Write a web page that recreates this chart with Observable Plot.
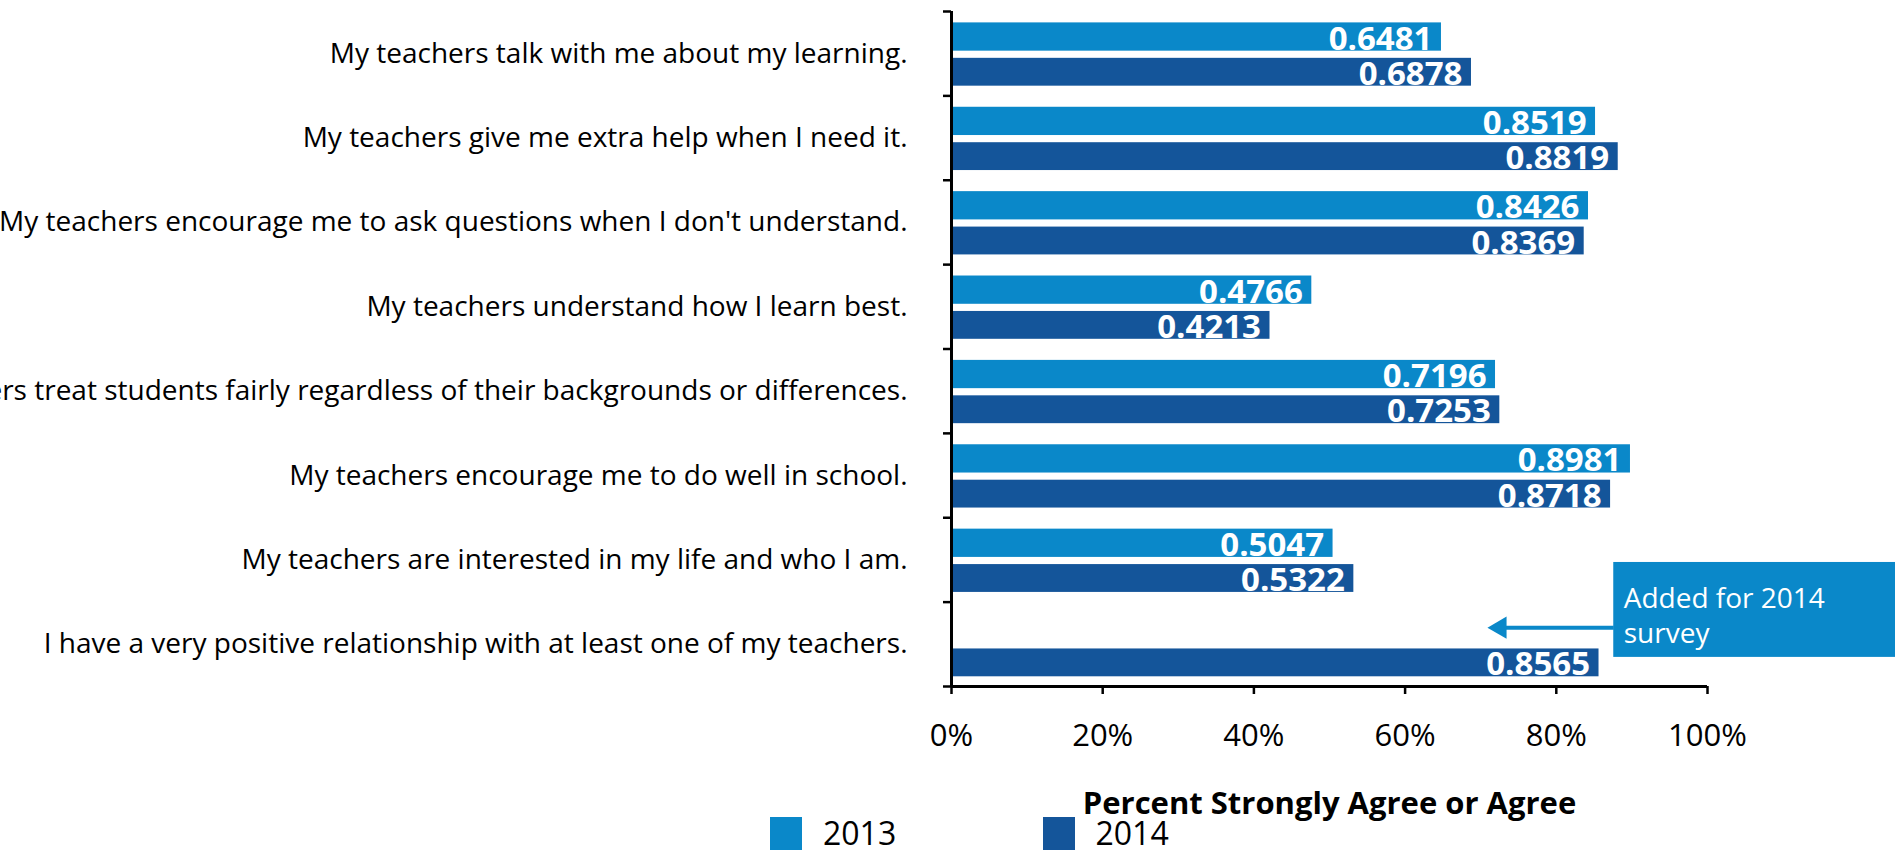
<!DOCTYPE html>
<html>
<head>
<meta charset="utf-8">
<script src="https://cdn.jsdelivr.net/npm/d3@7"></script>
<script src="https://cdn.jsdelivr.net/npm/@observablehq/plot@0.6"></script>
<style>
  html, body { margin: 0; padding: 0; background: #fff; overflow: hidden; }
  body { font-family: 'Open Sans', sans-serif; width: 1895px; height: 850px; }
  #legend { display: flex; height: 33px; padding-left: 770px; }
  .item { display: flex; align-items: flex-start; width: 272.5px; }
  .sw { width: 32px; height: 33px; }
  .lab { margin-left: 21px; font-size: 32px; line-height: 32px; color: #000; }
</style>
</head>
<body>
<div id="chart"></div>
<div id="legend"></div>
<script>
const categories = [
  "My teachers talk with me about my learning.",
  "My teachers give me extra help when I need it.",
  "My teachers encourage me to ask questions when I don't understand.",
  "My teachers understand how I learn best.",
  "My teachers treat students fairly regardless of their backgrounds or differences.",
  "My teachers encourage me to do well in school.",
  "My teachers are interested in my life and who I am.",
  "I have a very positive relationship with at least one of my teachers."
];
const values2013 = [0.6481, 0.8519, 0.8426, 0.4766, 0.7196, 0.8981, 0.5047, null];
const values2014 = [0.6878, 0.8819, 0.8369, 0.4213, 0.7253, 0.8718, 0.5322, 0.8565];
const years = ["2013", "2014"];
const yearColors = ["#0A88C9", "#14559A"];
const xTicks = [0, 0.2, 0.4, 0.6, 0.8, 1];
const axisTitle = "Percent Strongly Agree or Agree";
const noteText = "Added for 2014\nsurvey";
const noteCategory = 7;

// layout of the two bars inside one category band (fractions of the band)
const slot = { "2013": [0.135, 0.47], "2014": [0.555, 0.885] };

const rows = [];
categories.forEach((c, i) => {
  [values2013[i], values2014[i]].forEach((v, j) => {
    if (v == null) return;
    const yr = years[j];
    rows.push({ i, category: c, year: yr, value: v, y1: i + slot[yr][0], y2: i + slot[yr][1] });
  });
});

// annotation (placed relative to the category it describes)
const noteBox = [{ x1: 0.876, x2: 1.26, y1: noteCategory - 0.47, y2: noteCategory + 0.655 }];
const arrowY = noteCategory + (slot["2013"][0] + slot["2013"][1]) / 2;
const arrowTip = 0.709;
const noteArrow = [{ x1: noteBox[0].x1, x2: arrowTip + 0.02, y: arrowY }];

const fmt = d3.format(".4f");

const chart = Plot.plot({
  width: 1895,
  height: 817,
  marginLeft: 951,
  marginRight: 188,
  marginTop: 11,
  marginBottom: 131,
  style: { fontFamily: "'Open Sans', sans-serif", background: "#fff", overflow: "visible", color: "#000" },
  x: { domain: [0, 1], label: null },
  y: { domain: [0, categories.length], reverse: true, label: null },
  color: { domain: years, range: yearColors },
  marks: [
    Plot.rect(rows, { x1: 0, x2: "value", y1: "y1", y2: "y2", fill: "year" }),
    Plot.text(rows, {
      x: "value", y: d => (d.y1 + d.y2) / 2, text: d => fmt(d.value),
      textAnchor: "end", dx: -9, dy: 2, fill: "white", fontWeight: "bold", fontSize: 33
    }),
    Plot.axisY(d3.range(categories.length + 1), { tickSize: 8, tickFormat: () => "", strokeWidth: 2.5, stroke: "#000" }),
    Plot.axisY(d3.range(categories.length).map(i => i + 0.5), {
      tickSize: 0, tickPadding: 44, tickFormat: d => categories[Math.floor(d)], fontSize: 28, fill: "#000"
    }),
    Plot.axisX(xTicks, { tickSize: 8, tickPadding: 29, tickFormat: d3.format(".0%"), fontSize: 31, strokeWidth: 2.5, stroke: "#000", fill: "#000" }),
    Plot.ruleX([0], { strokeWidth: 3, stroke: "#000" }),
    Plot.ruleY([categories.length], { strokeWidth: 3, stroke: "#000" }),
    Plot.text([axisTitle], { frameAnchor: "bottom", dy: 118, fontWeight: "bold", fontSize: 31, lineAnchor: "middle", fill: "#000" }),
    Plot.rect(noteBox, { x1: "x1", x2: "x2", y1: "y1", y2: "y2", fill: yearColors[0] }),
    Plot.text(noteBox, {
      x: "x1", y: "y1", text: () => noteText, dx: 10, dy: 21, textAnchor: "start", lineAnchor: "top",
      fill: "white", fontSize: 28, lineHeight: 1.25
    }),
    Plot.link(noteArrow, { x1: "x1", x2: "x2", y1: "y", y2: "y", stroke: yearColors[0], strokeWidth: 4 }),
    Plot.dot(noteArrow, { x: () => arrowTip, y: "y", symbol: "triangle", r: 8.2, rotate: -90, dx: 12.7, fill: yearColors[0], stroke: "none" })
  ]
});
document.getElementById("chart").appendChild(chart);

const legend = document.getElementById("legend");
years.forEach((yr, j) => {
  const item = document.createElement("div");
  item.className = "item";
  const sw = document.createElement("div");
  sw.className = "sw";
  sw.style.background = yearColors[j];
  const lab = document.createElement("div");
  lab.className = "lab";
  lab.textContent = yr;
  item.appendChild(sw);
  item.appendChild(lab);
  legend.appendChild(item);
});
</script>
</body>
</html>
